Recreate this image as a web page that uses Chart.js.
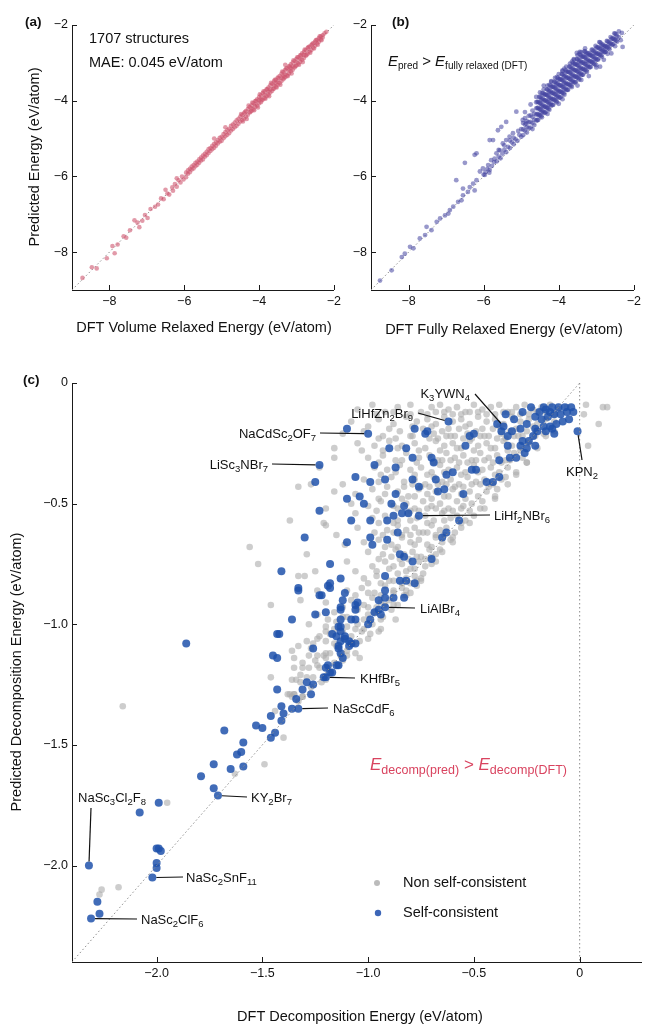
<!DOCTYPE html>
<html>
<head>
<meta charset="utf-8">
<script src="https://cdn.jsdelivr.net/npm/chart.js@4.4.1/dist/chart.umd.min.js"></script>
<style>
html, body { margin: 0; padding: 0; background: #fff; overflow: hidden; }
#wrap { position: relative; width: 645px; height: 1025px; }
canvas { position: absolute; }
</style>
</head>
<body>
<div id="wrap">
  <canvas id="chartA" style="left:0;top:0" width="345" height="345"></canvas>
  <canvas id="chartB" style="left:330px;top:0" width="315" height="345"></canvas>
  <canvas id="chartC" style="left:0;top:360px" width="645" height="665"></canvas>
</div>
<script>
const FONT = '"Liberation Sans", Arial, Helvetica, sans-serif';

// ---- tick values ----
const energyTicks = [-8, -6, -4, -2];
const decompTicksX = [-2.0, -1.5, -1.0, -0.5, 0];
const decompTicksY = [0, -0.5, -1.0, -1.5, -2.0];

// ---- (a) DFT volume relaxed vs predicted energy ----
const volRelaxedPts = [
  [-8.72,-8.68],[-8.47,-8.40],[-8.34,-8.43],[-8.07,-8.16],[-7.86,-8.03],[-7.92,-7.84],[-7.78,-7.80],[-7.62,-7.58],
  [-7.55,-7.62],[-7.45,-7.42],[-7.33,-7.16],[-7.20,-7.34],[-7.25,-7.22],[-7.12,-7.17],[-7.05,-7.02],[-6.98,-7.10],
  [-6.90,-6.86],[-6.78,-6.80],[-6.70,-6.74],[-6.62,-6.58],[-6.55,-6.60],[-6.45,-6.45],[-6.40,-6.48],[-6.32,-6.29],
  [-6.30,-6.38],[-6.25,-6.20],[-6.20,-6.27],[-6.15,-6.10],[-6.10,-6.16],[-6.06,-6.00],[-6.02,-6.08],[-6.50,-6.35],
  [-6.20,-6.05],[-5.20,-5.00],[-4.90,-4.70],[-3.30,-3.05],
  [-5.95,-5.90],[-5.95,-6.02],[-5.90,-5.93],[-5.90,-5.84],[-5.85,-5.80],[-5.85,-5.89],[-5.80,-5.82],[-5.80,-5.74],
  [-5.75,-5.70],[-5.75,-5.79],[-5.70,-5.73],[-5.70,-5.64],[-5.65,-5.61],[-5.65,-5.69],[-5.60,-5.55],[-5.60,-5.64],
  [-5.55,-5.58],[-5.55,-5.50],[-5.50,-5.45],[-5.50,-5.55],[-5.45,-5.48],[-5.45,-5.40],[-5.40,-5.35],[-5.40,-5.44],
  [-5.35,-5.38],[-5.35,-5.28],[-5.30,-5.25],[-5.30,-5.33],[-5.25,-5.28],[-5.25,-5.19],[-5.20,-5.14],[-5.20,-5.24],
  [-5.15,-5.19],[-5.15,-5.10],[-5.10,-5.04],[-5.10,-5.13],[-5.05,-5.08],[-5.05,-4.98],[-5.00,-4.95],[-5.00,-5.06],
  [-4.95,-4.99],[-4.95,-4.88],[-4.90,-4.83],[-4.90,-4.94],[-4.85,-4.90],[-4.85,-4.78],[-4.80,-4.74],[-4.80,-4.86],
  [-4.75,-4.79],[-4.75,-4.66],[-4.70,-4.63],[-4.70,-4.75],[-4.65,-4.70],[-4.65,-4.58],[-4.60,-4.52],[-4.60,-4.66],
  [-4.55,-4.61],[-4.55,-4.48],[-4.50,-4.42],[-4.50,-4.55],[-4.45,-4.51],[-4.45,-4.38],[-4.40,-4.33],[-4.40,-4.47],
  [-4.35,-4.42],[-4.35,-4.27],[-4.30,-4.22],[-4.30,-4.37],[-4.25,-4.31],[-4.25,-4.17],[-4.20,-4.12],[-4.20,-4.27],
  [-4.20,-4.20],[-4.15,-4.23],[-4.15,-4.06],[-4.10,-4.01],[-4.10,-4.16],[-4.10,-4.10],[-4.05,-4.13],[-4.05,-3.96],
  [-4.00,-3.90],[-4.00,-4.07],[-4.00,-3.99],[-3.95,-4.04],[-3.95,-3.86],[-3.95,-3.95],[-3.90,-3.80],[-3.90,-3.97],
  [-3.85,-3.93],[-3.85,-3.76],[-3.85,-3.85],[-3.80,-3.70],[-3.80,-3.88],[-3.75,-3.84],[-3.75,-3.65],[-3.75,-3.76],
  [-3.70,-3.59],[-3.70,-3.78],[-3.70,-3.70],[-3.65,-3.74],[-3.65,-3.55],[-3.60,-3.49],[-3.60,-3.68],[-3.60,-3.60],
  [-3.55,-3.63],[-3.55,-3.45],[-3.55,-3.54],[-3.50,-3.39],[-3.50,-3.58],[-3.50,-3.50],[-3.45,-3.53],[-3.45,-3.35],
  [-3.40,-3.29],[-3.40,-3.48],[-3.40,-3.40],[-3.35,-3.43],[-3.35,-3.24],[-3.35,-3.34],[-3.30,-3.19],[-3.30,-3.38],
  [-3.30,-3.30],[-3.25,-3.33],[-3.25,-3.14],[-3.20,-3.09],[-3.20,-3.28],[-3.20,-3.20],[-3.15,-3.22],[-3.15,-3.04],
  [-3.15,-3.14],[-3.10,-2.99],[-3.10,-3.18],[-3.10,-3.09],[-3.05,-3.12],[-3.05,-2.95],[-3.00,-2.90],[-3.00,-3.07],
  [-3.00,-2.99],[-2.95,-3.02],[-2.95,-2.85],[-2.90,-2.80],[-2.90,-2.97],[-2.90,-2.89],[-2.85,-2.92],[-2.85,-2.75],
  [-2.80,-2.71],[-2.80,-2.87],[-2.80,-2.79],[-2.75,-2.81],[-2.75,-2.66],[-2.70,-2.61],[-2.70,-2.76],[-2.65,-2.70],
  [-2.65,-2.57],[-2.60,-2.53],[-2.60,-2.66],[-2.55,-2.60],[-2.55,-2.48],[-2.50,-2.44],[-2.50,-2.55],[-2.45,-2.49],
  [-2.45,-2.39],[-2.40,-2.35],[-2.40,-2.44],[-2.35,-2.38],[-2.35,-2.30],[-2.30,-2.27],[-2.30,-2.33],[-2.25,-2.22],
  [-2.20,-2.18],
  [-4.48,-4.35],[-4.43,-4.55],[-4.38,-4.30],[-4.33,-4.48],[-4.28,-4.13],[-4.23,-4.29],[-4.18,-4.05],[-4.13,-4.25],
  [-4.08,-4.00],[-4.03,-4.18],[-3.98,-3.83],[-3.93,-3.99],[-3.88,-3.75],[-3.83,-3.95],[-3.78,-3.70],[-3.73,-3.88],
  [-3.68,-3.53],[-3.63,-3.69],[-3.58,-3.45],[-3.53,-3.65],[-3.48,-3.40],[-3.43,-3.58],[-3.38,-3.23],[-3.33,-3.39],
  [-3.28,-3.15],[-3.23,-3.35],[-3.18,-3.10],[-3.13,-3.28],[-3.08,-2.93],[-3.03,-3.09],[-2.98,-2.85],[-2.93,-3.05],
  [-2.88,-2.80],[-2.83,-2.98],[-2.78,-2.65],[-2.73,-2.79],[-2.68,-2.58],[-2.63,-2.73],[-2.58,-2.50],[-2.53,-2.62],
  [-2.48,-2.40],[-2.43,-2.52],[-2.38,-2.30],[-2.33,-2.40]
];

// ---- (b) DFT fully relaxed vs predicted energy ----
const fullyRelaxedPts = [
  [-8.76,-8.75],[-8.45,-8.48],[-8.18,-8.13],[-8.10,-8.04],[-7.96,-7.86],[-7.87,-7.90],[-7.70,-7.64],[-7.56,-7.55],
  [-7.52,-7.33],[-7.39,-7.42],[-7.25,-7.20],[-7.16,-7.11],[-7.03,-7.03],[-6.94,-6.98],[-6.90,-6.89],[-6.81,-6.80],
  [-6.68,-6.67],[-6.59,-6.63],[-6.55,-6.50],[-6.42,-6.41],[-6.73,-6.10],[-6.55,-6.32],[-6.37,-6.28],[-6.28,-6.19],
  [-6.19,-6.10],[-6.24,-6.37],[-6.50,-5.64],[-6.19,-5.39],[-6.24,-5.43],[-6.10,-5.87],[-6.02,-5.79],[-5.97,-5.96],
  [-5.88,-5.70],[-5.80,-5.57],[-5.84,-5.83],[-5.66,-5.39],[-5.57,-5.31],[-5.71,-5.53],[-5.62,-4.78],[-5.53,-4.69],
  [-5.40,-4.56],[-5.84,-5.04],[-5.75,-5.04],[-5.49,-5.13],[-5.40,-5.04],[-5.31,-4.95],[-5.22,-4.86],[-5.13,-4.29],
  [-4.96,-4.51],[-4.87,-4.60],
  [-6.00,-5.95],[-5.95,-5.88],[-5.90,-5.80],[-5.85,-5.90],[-5.78,-5.72],[-5.72,-5.62],[-5.65,-5.60],[-5.60,-5.48],
  [-5.55,-5.52],[-5.50,-5.40],[-5.45,-5.30],[-5.40,-5.36],[-5.35,-5.22],[-5.30,-5.25],[-5.25,-5.10],[-5.20,-5.15],
  [-5.15,-5.02],[-5.10,-5.06],[-5.05,-4.90],[-5.00,-4.95],[-5.00,-4.75],[-5.08,-4.80],[-5.20,-4.98],[-5.30,-5.05],
  [-5.45,-5.18],[-5.60,-5.30],
  [-4.95,-4.91],[-4.95,-4.76],[-4.95,-4.59],[-4.90,-4.79],[-4.90,-4.63],[-4.90,-4.46],[-4.85,-4.84],[-4.85,-4.70],
  [-4.85,-4.54],[-4.80,-4.72],[-4.80,-4.57],[-4.80,-4.40],[-4.75,-4.71],[-4.75,-4.56],[-4.75,-4.39],[-4.70,-4.59],
  [-4.70,-4.43],[-4.70,-4.26],[-4.65,-4.64],[-4.65,-4.50],[-4.65,-4.34],[-4.60,-4.52],[-4.60,-4.37],[-4.60,-4.20],
  [-4.60,-4.04],[-4.55,-4.51],[-4.55,-4.36],[-4.55,-4.19],[-4.55,-4.03],[-4.50,-4.39],[-4.50,-4.23],[-4.50,-4.06],
  [-4.50,-3.90],[-4.45,-4.44],[-4.45,-4.30],[-4.45,-4.14],[-4.45,-3.97],[-4.40,-4.32],[-4.40,-4.17],[-4.40,-4.00],
  [-4.40,-3.84],[-4.35,-4.31],[-4.35,-4.16],[-4.35,-3.99],[-4.35,-3.83],[-4.30,-4.19],[-4.30,-4.03],[-4.30,-3.86],
  [-4.30,-3.70],[-4.25,-4.24],[-4.25,-4.10],[-4.25,-3.94],[-4.25,-3.77],[-4.20,-4.12],[-4.20,-3.97],[-4.20,-3.80],
  [-4.20,-3.64],[-4.15,-4.11],[-4.15,-3.96],[-4.15,-3.79],[-4.15,-3.63],[-4.10,-3.99],[-4.10,-3.83],[-4.10,-3.66],
  [-4.10,-3.50],[-4.05,-4.04],[-4.05,-3.90],[-4.05,-3.74],[-4.05,-3.57],[-4.00,-3.92],[-4.00,-3.77],[-4.00,-3.60],
  [-4.00,-3.44],[-3.95,-3.91],[-3.95,-3.76],[-3.95,-3.59],[-3.95,-3.43],[-3.90,-3.79],[-3.90,-3.63],[-3.90,-3.46],
  [-3.90,-3.30],[-3.85,-3.84],[-3.85,-3.70],[-3.85,-3.54],[-3.85,-3.37],[-3.80,-3.72],[-3.80,-3.57],[-3.80,-3.40],
  [-3.80,-3.24],[-3.75,-3.71],[-3.75,-3.56],[-3.75,-3.39],[-3.75,-3.23],[-3.70,-3.59],[-3.70,-3.43],[-3.70,-3.26],
  [-3.70,-3.10],[-3.65,-3.64],[-3.65,-3.50],[-3.65,-3.34],[-3.65,-3.17],[-3.60,-3.52],[-3.60,-3.37],[-3.60,-3.20],
  [-3.60,-3.04],[-3.55,-3.51],[-3.55,-3.36],[-3.55,-3.19],[-3.55,-3.03],[-3.50,-3.39],[-3.50,-3.23],[-3.50,-3.06],
  [-3.50,-2.90],[-3.45,-3.44],[-3.45,-3.30],[-3.45,-3.14],[-3.45,-2.97],[-3.40,-3.32],[-3.40,-3.17],[-3.40,-3.00],
  [-3.40,-2.84],[-3.35,-3.31],[-3.35,-3.16],[-3.35,-2.99],[-3.35,-2.83],[-3.30,-3.19],[-3.30,-3.03],[-3.30,-2.86],
  [-3.30,-2.70],[-3.25,-3.24],[-3.25,-3.10],[-3.25,-2.94],[-3.25,-2.77],[-3.20,-3.12],[-3.20,-2.97],[-3.20,-2.80],
  [-3.15,-3.11],[-3.15,-2.96],[-3.15,-2.79],[-3.10,-2.99],[-3.10,-2.83],[-3.10,-2.66],[-3.05,-3.04],[-3.05,-2.90],
  [-3.05,-2.74],[-3.00,-2.92],[-3.00,-2.77],[-3.00,-2.60],[-2.95,-2.91],[-2.95,-2.76],[-2.95,-2.59],[-2.90,-2.79],
  [-2.90,-2.63],[-2.90,-2.46],[-2.85,-2.84],[-2.85,-2.70],[-2.85,-2.54],[-2.80,-2.72],[-2.80,-2.57],[-2.75,-2.71],
  [-2.75,-2.56],[-2.70,-2.59],[-2.70,-2.43],[-2.65,-2.64],[-2.65,-2.50],[-2.60,-2.52],[-2.60,-2.37],[-2.55,-2.51],
  [-2.55,-2.36],[-2.50,-2.39],[-2.50,-2.23],[-2.45,-2.44],[-2.45,-2.30],[-2.40,-2.32],[-2.40,-2.17],[-2.32,-2.21],
  [-2.30,-2.58],[-2.35,-2.40],
  [-4.57,-4.51],[-4.57,-4.35],[-4.57,-4.19],[-4.57,-4.03],[-4.52,-4.38],[-4.52,-4.22],[-4.52,-4.05],[-4.52,-3.90],
  [-4.47,-4.41],[-4.47,-4.25],[-4.47,-4.09],[-4.47,-3.93],[-4.42,-4.28],[-4.42,-4.12],[-4.42,-3.95],[-4.42,-3.80],
  [-4.37,-4.31],[-4.37,-4.15],[-4.37,-3.99],[-4.37,-3.83],[-4.32,-4.18],[-4.32,-4.02],[-4.32,-3.85],[-4.32,-3.70],
  [-4.27,-4.21],[-4.27,-4.05],[-4.27,-3.89],[-4.27,-3.73],[-4.22,-4.08],[-4.22,-3.92],[-4.22,-3.75],[-4.22,-3.60],
  [-4.17,-4.11],[-4.17,-3.95],[-4.17,-3.79],[-4.17,-3.63],[-4.12,-3.98],[-4.12,-3.82],[-4.12,-3.65],[-4.12,-3.50],
  [-4.07,-4.01],[-4.07,-3.85],[-4.07,-3.69],[-4.07,-3.53],[-4.02,-3.88],[-4.02,-3.72],[-4.02,-3.55],[-4.02,-3.40],
  [-3.97,-3.91],[-3.97,-3.75],[-3.97,-3.59],[-3.97,-3.43],[-3.92,-3.78],[-3.92,-3.62],[-3.92,-3.45],[-3.92,-3.30],
  [-3.87,-3.81],[-3.87,-3.65],[-3.87,-3.49],[-3.87,-3.33],[-3.82,-3.68],[-3.82,-3.52],[-3.82,-3.35],[-3.82,-3.20],
  [-3.77,-3.71],[-3.77,-3.55],[-3.77,-3.39],[-3.77,-3.23],[-3.72,-3.58],[-3.72,-3.42],[-3.72,-3.25],[-3.72,-3.10],
  [-3.67,-3.61],[-3.67,-3.45],[-3.67,-3.29],[-3.67,-3.13],[-3.62,-3.48],[-3.62,-3.32],[-3.62,-3.15],[-3.62,-3.00],
  [-3.57,-3.51],[-3.57,-3.35],[-3.57,-3.19],[-3.57,-3.03],[-3.52,-3.38],[-3.52,-3.22],[-3.52,-3.05],[-3.52,-2.90],
  [-3.47,-3.41],[-3.47,-3.25],[-3.47,-3.09],[-3.47,-2.93],[-3.42,-3.28],[-3.42,-3.12],[-3.42,-2.95],[-3.42,-2.80],
  [-3.37,-3.31],[-3.37,-3.15],[-3.37,-2.99],[-3.37,-2.83],[-3.32,-3.18],[-3.32,-3.02],[-3.32,-2.85],[-3.32,-2.70],
  [-3.27,-3.21],[-3.27,-3.05],[-3.27,-2.89],[-3.27,-2.73],[-3.22,-3.08],[-3.22,-2.92],[-3.22,-2.75],[-3.17,-3.11],
  [-3.17,-2.95],[-3.17,-2.79],[-3.12,-2.98],[-3.12,-2.82],[-3.12,-2.65],[-3.07,-3.01],[-3.07,-2.85],[-3.07,-2.69],
  [-3.02,-2.88],[-3.02,-2.72],[-3.02,-2.55],[-2.97,-2.91],[-2.97,-2.75],[-2.97,-2.59],[-2.92,-2.78],[-2.92,-2.62],
  [-2.92,-2.45],[-2.87,-2.81],[-2.87,-2.65],[-2.87,-2.49],[-2.82,-2.68],[-2.82,-2.52],[-2.77,-2.71],[-2.77,-2.55],
  [-2.72,-2.58],[-2.72,-2.42],[-2.67,-2.61],[-2.67,-2.45],[-2.62,-2.48],[-2.62,-2.32],[-2.57,-2.51],[-2.57,-2.35],
  [-2.52,-2.38],[-2.52,-2.22],[-2.47,-2.41],[-2.47,-2.25],
  [-4.50,-3.78],[-4.40,-3.70],[-4.30,-3.60],[-4.20,-3.48],[-4.10,-3.40],[-4.00,-3.30],[-3.90,-3.22],[-3.80,-3.10],
  [-3.70,-3.02],[-3.60,-2.92],[-3.50,-2.80],[-3.40,-2.72],[-3.30,-2.62],[-4.45,-3.80],[-4.25,-3.58],[-4.05,-3.38],
  [-3.85,-3.15],[-3.65,-2.97],[-3.45,-2.76],
  [-4.30,-4.35],[-3.90,-3.96],[-3.40,-3.45],[-3.00,-3.06],[-2.70,-2.76],[-4.70,-4.75],[-2.50,-2.56],[-3.20,-3.35],
  [-3.00,-3.12],[-2.80,-2.92],[-2.60,-2.75],[-3.50,-3.60],[-4.00,-4.08],[-2.90,-3.10],
  [-4.40,-3.60],[-4.20,-3.50],[-3.90,-3.20],[-3.60,-2.90],[-3.52,-2.74],[-3.44,-2.71],[-3.18,-2.74],[-2.78,-2.66],
  [-4.60,-3.90],[-4.75,-4.10],[-4.90,-4.30]
];

// ---- (c) decomposition energies ----
const nonSelfConsistentPts = [
  [-1.05,-0.11],[-0.98,-0.09],[-0.92,-0.12],[-0.86,-0.10],[-0.80,-0.09],[-0.75,-0.12],[-0.70,-0.10],[-0.66,-0.09],
  [-0.62,-0.11],[-0.58,-0.10],[-0.54,-0.12],[-0.50,-0.09],[-0.46,-0.11],[-0.42,-0.10],[-0.38,-0.09],[-0.34,-0.12],
  [-0.30,-0.10],[-0.26,-0.09],[-0.22,-0.11],[-0.18,-0.10],[-0.14,-0.09],[-0.10,-0.11],[-0.06,-0.10],[0.02,-0.13],
  [0.11,-0.10],[0.13,-0.10],[0.09,-0.17],[0.04,-0.26],[0.03,-0.09],
  [-1.08,-0.16],[-0.95,-0.15],[-0.88,-0.17],[-0.82,-0.14],[-0.77,-0.16],[-0.72,-0.15],[-0.68,-0.17],[-0.64,-0.14],
  [-0.60,-0.16],[-0.56,-0.15],[-0.52,-0.17],[-0.48,-0.14],[-0.44,-0.16],[-0.40,-0.15],[-0.36,-0.17],[-0.32,-0.14],
  [-0.28,-0.16],[-0.24,-0.15],[-0.20,-0.17],[-0.16,-0.15],[-0.12,-0.16],
  [-1.12,-0.21],[-1.02,-0.20],[-0.93,-0.22],[-0.85,-0.20],[-0.80,-0.22],[-0.74,-0.19],[-0.69,-0.21],[-0.65,-0.20],
  [-0.61,-0.22],[-0.57,-0.19],[-0.53,-0.21],[-0.49,-0.20],[-0.45,-0.22],[-0.41,-0.19],[-0.37,-0.21],[-0.33,-0.20],
  [-0.29,-0.22],[-0.25,-0.20],[-0.21,-0.22],[-0.17,-0.21],
  [-1.16,-0.27],[-1.05,-0.25],[-0.97,-0.26],[-0.90,-0.24],[-0.84,-0.26],[-0.78,-0.25],[-0.73,-0.27],[-0.68,-0.24],
  [-0.64,-0.26],[-0.60,-0.25],[-0.56,-0.27],[-0.52,-0.24],[-0.48,-0.26],[-0.44,-0.25],[-0.40,-0.27],[-0.36,-0.24],
  [-0.32,-0.26],[-0.28,-0.28],[-0.24,-0.25],[-0.20,-0.27],
  [-1.03,-0.28],[-1.00,-0.31],[-0.93,-0.30],[-0.87,-0.32],[-0.82,-0.29],[-0.76,-0.31],[-0.71,-0.30],[-0.67,-0.32],
  [-0.63,-0.29],[-0.59,-0.31],[-0.55,-0.30],[-0.51,-0.32],[-0.47,-0.29],[-0.43,-0.31],[-0.39,-0.30],[-0.35,-0.32],
  [-0.31,-0.29],[-0.27,-0.31],[-0.25,-0.33],
  [-1.23,-0.35],[-1.16,-0.31],[-0.97,-0.35],[-0.91,-0.36],[-0.85,-0.34],[-0.80,-0.36],[-0.75,-0.35],[-0.70,-0.37],
  [-0.66,-0.34],[-0.62,-0.36],[-0.58,-0.35],[-0.54,-0.37],[-0.50,-0.34],[-0.46,-0.36],[-0.42,-0.35],[-0.38,-0.37],
  [-0.34,-0.35],[-0.30,-0.37],
  [-1.33,-0.43],[-1.27,-0.42],[-1.12,-0.42],[-1.02,-0.40],[-0.95,-0.41],[-0.89,-0.39],[-0.83,-0.41],[-0.78,-0.40],
  [-0.73,-0.42],[-0.69,-0.39],[-0.65,-0.41],[-0.61,-0.40],[-0.57,-0.42],[-0.53,-0.39],[-0.49,-0.41],[-0.45,-0.40],
  [-0.41,-0.42],[-0.37,-0.40],
  [-1.16,-0.45],[-1.06,-0.46],[-0.98,-0.44],[-0.92,-0.46],[-0.86,-0.45],[-0.81,-0.47],[-0.76,-0.44],[-0.72,-0.46],
  [-0.68,-0.45],[-0.64,-0.47],[-0.60,-0.44],[-0.56,-0.46],[-0.52,-0.45],[-0.48,-0.47],[-0.44,-0.45],[-0.40,-0.47],
  [-1.20,-0.52],[-1.08,-0.50],[-1.00,-0.51],[-0.94,-0.49],[-0.88,-0.51],[-0.82,-0.50],[-0.78,-0.52],[-0.74,-0.49],
  [-0.70,-0.51],[-0.66,-0.50],[-0.62,-0.52],[-0.58,-0.49],[-0.55,-0.51],[-0.51,-0.50],[-0.47,-0.52],
  [-1.37,-0.57],[-1.21,-0.58],[-1.20,-0.59],[-1.06,-0.54],[-0.98,-0.56],[-0.92,-0.55],[-0.86,-0.57],[-0.81,-0.54],
  [-0.77,-0.56],[-0.73,-0.55],[-0.69,-0.57],[-0.65,-0.54],[-0.61,-0.56],[-0.58,-0.55],[-0.54,-0.57],[-0.50,-0.55],
  [-1.15,-0.63],[-1.05,-0.60],[-0.97,-0.62],[-0.91,-0.61],[-0.86,-0.59],[-0.82,-0.61],[-0.78,-0.60],[-0.74,-0.62],
  [-0.70,-0.59],[-0.66,-0.61],[-0.63,-0.60],[-0.59,-0.62],[-0.56,-0.60],
  [-1.11,-0.67],[-1.02,-0.66],[-0.95,-0.65],[-0.89,-0.67],[-0.84,-0.64],[-0.80,-0.66],[-0.76,-0.65],[-0.72,-0.67],
  [-0.68,-0.64],[-0.65,-0.66],[-0.61,-0.65],
  [-1.56,-0.68],[-1.29,-0.71],[-1.10,-0.74],[-1.00,-0.70],[-0.93,-0.71],[-0.87,-0.69],[-0.83,-0.71],[-0.79,-0.70],
  [-0.75,-0.72],[-0.71,-0.69],[-0.68,-0.71],[-0.65,-0.70],
  [-1.52,-0.75],[-1.25,-0.78],[-1.06,-0.78],[-0.98,-0.76],[-0.92,-0.74],[-0.88,-0.76],[-0.84,-0.75],[-0.80,-0.77],
  [-0.76,-0.74],[-0.73,-0.76],[-0.70,-0.75],
  [-1.33,-0.80],[-1.30,-0.80],[-1.02,-0.81],[-0.96,-0.80],[-0.90,-0.82],[-0.86,-0.79],[-0.82,-0.81],[-0.78,-0.80],
  [-0.75,-0.82],
  [-1.24,-0.86],[-1.10,-0.86],[-1.03,-0.85],[-0.97,-0.87],[-0.92,-0.84],[-0.88,-0.86],[-0.84,-0.85],[-0.80,-0.87],
  [-0.77,-0.84],
  [-1.46,-0.92],[-1.32,-0.90],[-1.20,-0.91],[-1.08,-0.90],[-1.02,-0.92],[-0.98,-0.89],[-0.94,-0.91],[-0.90,-0.90],
  [-0.86,-0.92],[-0.83,-0.88],
  [-1.24,-0.96],[-1.16,-0.95],[-1.10,-0.97],[-1.05,-0.94],[-1.00,-0.96],[-0.97,-0.95],[-0.93,-0.97],[-0.89,-0.94],
  [-0.87,-0.98],
  [-1.28,-1.00],[-1.20,-1.01],[-1.15,-0.99],[-1.10,-1.01],[-1.05,-1.00],[-1.02,-1.02],[-0.98,-1.00],[-0.95,-1.03],
  [-1.23,-1.05],[-1.24,-1.06],[-1.29,-1.07],[-1.18,-1.04],[-1.12,-1.06],[-1.08,-1.05],[-1.04,-1.07],[-1.00,-1.06],
  [-1.33,-1.09],[-1.36,-1.11],[-1.27,-1.10],[-1.20,-1.12],[-1.15,-1.09],[-1.10,-1.11],[-1.06,-1.12],
  [-1.35,-1.14],[-1.31,-1.16],[-1.25,-1.15],[-1.20,-1.14],[-1.16,-1.16],[-1.12,-1.15],
  [-1.28,-1.18],[-1.35,-1.18],[-1.23,-1.18],[-1.32,-1.21],[-1.26,-1.22],[-1.18,-1.20],
  [-1.36,-1.23],[-1.32,-1.24],[-1.27,-1.26],[-1.22,-1.24],
  [-1.38,-1.29],[-1.36,-1.30],[-1.35,-1.29],[-1.31,-1.30],[-1.33,-1.32],
  [-0.72,-0.13],[-0.64,-0.12],[-0.56,-0.13],[-0.48,-0.12],[-0.40,-0.13],[-0.32,-0.12],[-0.24,-0.13],[-0.16,-0.12],
  [-0.71,-0.23],[-0.63,-0.22],[-0.55,-0.23],[-0.47,-0.22],[-0.39,-0.23],[-0.31,-0.22],
  [-0.69,-0.33],[-0.61,-0.32],[-0.53,-0.33],[-0.45,-0.32],[-0.37,-0.33],
  [-0.75,-0.43],[-0.67,-0.42],[-0.59,-0.43],[-0.51,-0.42],[-0.43,-0.43],
  [-0.80,-0.53],[-0.72,-0.52],[-0.64,-0.53],[-0.56,-0.52],
  [-0.84,-0.63],[-0.76,-0.62],[-0.68,-0.63],
  [-0.85,-0.73],[-0.77,-0.72],[-0.73,-0.73],
  [-0.94,-0.83],[-0.88,-0.82],[-0.80,-0.83],
  [-1.00,-0.93],[-0.92,-0.92],
  [-1.12,-1.03],[-1.06,-1.02],[-0.99,-1.04],
  [-1.24,-1.13],[-1.18,-1.12],[-1.13,-1.13],
  [-0.96,-0.13],[-0.88,-0.12],[-0.80,-0.13],[-0.68,-0.12],[-0.60,-0.13],[-0.52,-0.12],[-0.44,-0.13],[-0.36,-0.12],
  [-0.28,-0.13],[-0.20,-0.12],[-0.12,-0.13],
  [-1.00,-0.18],[-0.90,-0.19],[-0.79,-0.18],[-0.70,-0.18],[-0.62,-0.19],[-0.54,-0.18],[-0.46,-0.19],[-0.38,-0.18],
  [-0.30,-0.19],[-0.22,-0.18],
  [-0.95,-0.23],[-0.87,-0.23],[-0.79,-0.22],[-0.67,-0.23],[-0.59,-0.22],[-0.51,-0.23],[-0.43,-0.22],[-0.35,-0.23],
  [-0.27,-0.22],
  [-0.93,-0.28],[-0.86,-0.27],[-0.76,-0.28],[-0.66,-0.28],[-0.58,-0.27],[-0.50,-0.28],[-0.42,-0.27],[-0.34,-0.28],
  [-0.95,-0.33],[-0.84,-0.32],[-0.77,-0.33],[-0.65,-0.32],[-0.57,-0.33],[-0.49,-0.32],[-0.41,-0.33],[-0.33,-0.32],
  [-0.94,-0.38],[-0.87,-0.37],[-0.78,-0.38],[-0.72,-0.38],[-0.64,-0.37],[-0.56,-0.38],[-0.48,-0.37],[-0.40,-0.38],
  [-0.35,-0.39],
  [-0.91,-0.43],[-0.83,-0.43],[-0.79,-0.42],[-0.71,-0.43],[-0.63,-0.42],[-0.55,-0.43],[-0.47,-0.42],[-0.39,-0.44],
  [-0.95,-0.48],[-0.84,-0.48],[-0.78,-0.47],[-0.70,-0.48],[-0.62,-0.47],[-0.54,-0.48],[-0.46,-0.49],
  [-0.96,-0.53],[-0.86,-0.52],[-0.76,-0.53],[-0.68,-0.52],[-0.60,-0.53],[-0.52,-0.53],
  [-0.95,-0.58],[-0.88,-0.58],[-0.80,-0.57],[-0.72,-0.58],[-0.64,-0.57],[-0.56,-0.58],
  [-0.93,-0.63],[-0.88,-0.62],[-0.80,-0.63],[-0.72,-0.62],[-0.64,-0.63],[-0.60,-0.64],
  [-0.92,-0.68],[-0.86,-0.68],[-0.78,-0.67],[-0.70,-0.68],[-0.66,-0.69],
  [-0.95,-0.73],[-0.89,-0.72],[-0.81,-0.73],[-0.70,-0.72],
  [-0.96,-0.78],[-0.90,-0.77],[-0.82,-0.78],[-0.78,-0.77],[-0.74,-0.79],
  [-1.00,-0.83],[-0.84,-0.83],[-0.77,-0.82],
  [-1.06,-0.88],[-1.00,-0.87],[-0.94,-0.88],[-0.88,-0.87],[-0.82,-0.88],
  [-1.12,-0.93],[-1.05,-0.93],[-0.96,-0.93],[-0.88,-0.92],
  [-1.19,-0.98],[-1.12,-0.97],[-1.02,-0.98],[-0.94,-0.98],
  [-1.20,-1.03],[-1.16,-1.02],[-1.03,-1.03],
  [-1.26,-1.08],[-1.20,-1.07],[-1.16,-1.08],[-1.07,-1.08],
  [-1.28,-1.13],[-1.21,-1.13],[-1.10,-1.13],
  [-1.31,-1.18],[-1.24,-1.17],[-1.19,-1.18],[-1.14,-1.17],
  [-1.34,-1.23],[-1.29,-1.22],[-1.20,-1.23],
  [-0.25,-0.33],[-0.34,-0.42],[-0.30,-0.38],[-0.40,-0.48],[-0.45,-0.52],[-0.52,-0.58],[-0.60,-0.66],[-0.68,-0.74],
  [-0.75,-0.81],[-0.82,-0.86],[-0.16,-0.22],[-0.12,-0.20],[-1.04,-1.14],[-0.94,-1.02],
  [-2.16,-1.34],[-1.95,-1.74],[-2.26,-2.10],[-2.27,-2.12],[-2.18,-2.09],[-1.49,-1.58],[-1.63,-1.62],[-1.40,-1.47],
  [-1.44,-1.36],[-1.37,-1.29],[-1.35,-1.29],[-1.31,-1.30],[-1.46,-1.22]
];

const selfConsistentPts = [
  [-2.28,-2.15],[-2.27,-2.20],[-2.00,-1.99],[-2.00,-2.01],[-2.00,-1.93],[-1.99,-1.93],[-1.98,-1.94],[-2.08,-1.78],
  [-1.99,-1.74],[-1.73,-1.68],[-1.79,-1.63],[-1.65,-1.60],[-1.59,-1.59],[-1.73,-1.58],[-1.62,-1.54],[-1.60,-1.53],
  [-1.59,-1.49],[-1.44,-1.45],[-1.46,-1.47],[-1.68,-1.44],[-1.53,-1.42],[-1.50,-1.43],[-1.41,-1.40],[-1.40,-1.37],
  [-1.46,-1.38],[-1.41,-1.34],[-1.36,-1.35],[-1.34,-1.31],[-1.43,-1.27],[-1.27,-1.29],[-1.31,-1.27],[-1.26,-1.25],
  [-1.29,-1.24],[-1.20,-1.18],[-1.18,-1.20],[-1.14,-1.17],[-1.45,-1.13],[-1.43,-1.14],[-1.26,-1.10],[-1.43,-1.04],
  [-1.86,-1.08],
  [-1.14,-1.10],[-1.13,-1.12],[-1.12,-1.14],[-1.13,-1.01],[-1.15,-1.05],[-1.13,-1.07],[-1.11,-1.05],[-1.09,-1.07],
  [-1.08,-1.08],[-1.06,-1.08],[-1.36,-0.98],[-1.25,-0.96],[-1.20,-0.95],[-1.13,-0.94],[-1.13,-0.98],[-1.08,-0.98],
  [-1.06,-0.98],[-1.06,-0.92],[-1.12,-0.90],[-1.23,-0.88],[-1.11,-0.87],[-1.33,-0.85],[-1.18,-0.83],[-1.18,-0.85],
  [-1.13,-0.81],[-1.41,-0.78],
  [-0.95,-0.94],[-0.99,-0.98],[-1.00,-1.00],[-0.97,-0.95],[-0.95,-0.90],[-0.92,-0.89],[-0.88,-0.89],[-0.83,-0.89],
  [-0.92,-0.86],[-0.92,-0.80],[-0.85,-0.82],[-0.82,-0.82],[-0.78,-0.83],[-0.94,-0.96],
  [-1.14,-1.01],[-1.13,-1.03],[-1.17,-1.04],[-1.11,-1.06],[-1.09,-1.09],[-1.14,-1.09],[-1.19,-1.17],[-1.17,-1.20],
  [-1.15,-1.17],[-1.21,-1.22],
  [-1.18,-0.75],[-1.19,-0.84],[-1.22,-0.88],[-1.13,-0.93],[-1.06,-0.94],[-1.05,-0.91],
  [-1.25,-0.41],[-1.23,-0.53],[-1.30,-0.64],[-1.33,-0.86],[-1.42,-1.04],
  [-1.10,-0.66],[-1.08,-0.57],[-0.99,-0.57],[-0.99,-0.64],[-0.98,-0.67],[-0.91,-0.57],[-0.91,-0.65],[-0.86,-0.62],
  [-0.89,-0.50],[-0.88,-0.55],[-0.84,-0.54],[-0.81,-0.54],[-0.83,-0.51],[-0.87,-0.46],[-1.04,-0.47],[-1.02,-0.50],
  [-1.10,-0.48],[-0.57,-0.57],[-0.63,-0.62],[-0.65,-0.64],[-0.70,-0.73],[-0.79,-0.74],[-0.83,-0.72],[-0.85,-0.71],
  [-1.10,-0.19],[-0.78,-0.19],[-0.73,-0.21],[-0.72,-0.20],[-0.90,-0.27],[-0.82,-0.27],[-0.79,-0.31],[-0.70,-0.31],
  [-0.69,-0.33],[-0.97,-0.34],[-0.87,-0.35],[-1.06,-0.39],[-0.99,-0.41],[-0.92,-0.40],[-0.79,-0.40],[-0.76,-0.43],
  [-0.68,-0.40],[-0.64,-0.44],[-0.67,-0.45],[-0.60,-0.37],[-0.63,-0.38],[-0.55,-0.46],[-0.52,-0.22],[-0.50,-0.21],
  [-0.54,-0.26],[-0.51,-0.36],[-0.49,-0.36],[-0.44,-0.41],[-0.41,-0.41],[-0.38,-0.39],[-0.38,-0.32],
  [-0.39,-0.17],[-0.37,-0.20],[-0.34,-0.22],[-0.32,-0.20],[-0.35,-0.13],[-0.31,-0.15],[-0.30,-0.31],[-0.33,-0.31],
  [-0.28,-0.26],[-0.25,-0.27],[-0.21,-0.26],[-0.27,-0.24],[-0.34,-0.26],
  [-0.25,-0.17],[-0.23,-0.10],[-0.21,-0.14],[-0.19,-0.12],[-0.16,-0.11],[-0.13,-0.10],[-0.10,-0.10],[-0.07,-0.10],
  [-0.04,-0.10],[-0.20,-0.20],[-0.17,-0.18],[-0.14,-0.18],[-0.11,-0.17],[-0.22,-0.22],[-0.24,-0.24],[-0.18,-0.15],
  [-0.15,-0.14],[-0.12,-0.13],[-0.09,-0.13],[-0.06,-0.12],[-0.27,-0.12],[-0.17,-0.10],[-0.14,-0.12],[-0.08,-0.16],
  [-0.05,-0.15],[-0.13,-0.19],[-0.16,-0.20],[-0.21,-0.19],[-0.28,-0.19],[-0.26,-0.29],[-0.12,-0.21],[-0.03,-0.12],
  [-2.32,-2.00],[-2.31,-2.22],[-2.02,-2.05],[-1.71,-1.71],[-1.33,-1.35],[-1.20,-1.22],[-0.92,-0.93],[-0.76,-0.55],
  [-1.23,-0.34],[-1.00,-0.21],[-0.62,-0.16],[-0.36,-0.18],[-0.01,-0.20]
];

// labelled compounds and the point each one marks
const labelNames = ['NaSc3Cl2F8', 'NaSc2ClF6', 'NaSc2SnF11', 'KY2Br7', 'NaScCdF6', 'KHfBr5', 'LiAlBr4',
  'LiHf2NBr6', 'LiSc3NBr7', 'NaCdSc2OF7', 'LiHfZn2Br9', 'K3YWN4', 'KPN2'];
const labelPts = [[-2.32,-2.00],[-2.31,-2.22],[-2.02,-2.05],[-1.71,-1.71],[-1.33,-1.35],[-1.20,-1.22],[-0.92,-0.93],
  [-0.76,-0.55],[-1.23,-0.34],[-1.00,-0.21],[-0.62,-0.16],[-0.36,-0.18],[-0.01,-0.20]];

// where the label text and leader line sit (page px)
const calloutLayout = [
  { tx: 112, ty: 797, align: 'center', lx: 91, ly: 808 },
  { tx: 141, ty: 919, align: 'left', lx: 137, ly: 919 },
  { tx: 186, ty: 877, align: 'left', lx: 183, ly: 877 },
  { tx: 251, ty: 797, align: 'left', lx: 247, ly: 797 },
  { tx: 333, ty: 708, align: 'left', lx: 328, ly: 708 },
  { tx: 360, ty: 678, align: 'left', lx: 355, ly: 678 },
  { tx: 420, ty: 608, align: 'left', lx: 415, ly: 608 },
  { tx: 494, ty: 515, align: 'left', lx: 490, ly: 515 },
  { tx: 268, ty: 464, align: 'right', lx: 272, ly: 464 },
  { tx: 316, ty: 433, align: 'right', lx: 320, ly: 433 },
  { tx: 413, ty: 413, align: 'right', lx: 418, ly: 413 },
  { tx: 470, ty: 393, align: 'right', lx: 475, ly: 394 },
  { tx: 582, ty: 471, align: 'center', lx: 582, ly: 460 }
];

const toXY = arr => arr.map(p => ({ x: p[0], y: p[1] }));
const minus = v => (v < 0 ? '\u2212' : '') + Math.abs(v);
const minus1 = v => v === 0 ? '0' : (v < 0 ? '\u2212' : '') + Math.abs(v).toFixed(1);

function axis(min, max, ticks, fmt, fit) {
    return {
        type: 'linear',
        min: min,
        max: max,
        afterBuildTicks: s => { s.ticks = ticks.map(v => ({ value: v })); },
        afterFit: fit,
        grid: { display: true, drawOnChartArea: false, drawTicks: false },
        border: { display: true, color: '#1a1a1a', width: 1 },
        ticks: {
            padding: 4, autoSkip: false, maxRotation: 0, color: '#111',
            font: { family: FONT, size: 12.5 },
            callback: fmt
        }
    };
}

// ticks in this figure point into the plot
const innerTicks = {
    id: 'innerTicks',
    afterDraw(chart) {
        const { ctx, chartArea: a, scales } = chart;
        ctx.save();
        ctx.strokeStyle = '#1a1a1a';
        ctx.lineWidth = 1;
        scales.x.ticks.forEach(t => {
            const px = Math.round(scales.x.getPixelForValue(t.value)) + 0.5;
            ctx.beginPath(); ctx.moveTo(px, a.bottom); ctx.lineTo(px, a.bottom - 5); ctx.stroke();
        });
        scales.y.ticks.forEach(t => {
            const py = Math.round(scales.y.getPixelForValue(t.value)) + 0.5;
            ctx.beginPath(); ctx.moveTo(a.left, py); ctx.lineTo(a.left + 5, py); ctx.stroke();
        });
        ctx.restore();
    }
};

function text(ctx, str, x, y, size, align, opts = {}) {
    ctx.save();
    ctx.font = (opts.bold ? 'bold ' : '') + size + 'px ' + FONT;
    ctx.fillStyle = opts.color || '#111';
    ctx.textAlign = align;
    ctx.textBaseline = 'middle';
    if (opts.rotate) {
        ctx.translate(x, y);
        ctx.rotate(-Math.PI / 2);
        ctx.fillText(str, 0, 0);
    } else {
        ctx.fillText(str, x, y);
    }
    ctx.restore();
}

// draws runs of text with their own size / italic / baseline shift
function drawRich(ctx, parts, x, baseline, align, color) {
    ctx.save();
    let w = 0;
    parts.forEach(p => {
        ctx.font = (p.it ? 'italic ' : '') + p.s + 'px ' + FONT;
        p.w = ctx.measureText(p.t).width;
        w += p.w;
    });
    let cx = align === 'right' ? x - w : align === 'center' ? x - w / 2 : x;
    ctx.fillStyle = color;
    ctx.textAlign = 'left';
    ctx.textBaseline = 'alphabetic';
    parts.forEach(p => {
        ctx.font = (p.it ? 'italic ' : '') + p.s + 'px ' + FONT;
        ctx.fillText(p.t, cx, baseline + (p.dy || 0));
        cx += p.w;
    });
    ctx.restore();
}

function formulaParts(str) {
    const parts = [];
    str.replace(/(\d+)|(\D+)/g, (m, d, t) => {
        parts.push(d ? { t: d, s: 9.5, dy: 3 } : { t: t, s: 13 });
    });
    return parts;
}

function drawPanelA(ctx) {
    text(ctx, '(a)', 25, 22, 13.5, 'left', { bold: true });
    text(ctx, '1707 structures', 89, 39, 14.5, 'left');
    text(ctx, 'MAE: 0.045 eV/atom', 89, 62.5, 14.5, 'left');
    text(ctx, 'Predicted Energy (eV/atom)', 35, 157, 14.5, 'center', { rotate: true });
    text(ctx, 'DFT Volume Relaxed Energy (eV/atom)', 204, 328, 14.5, 'center');
}

function drawPanelB(ctx) {
    const ox = 330;
    text(ctx, '(b)', 392 - ox, 22, 13.5, 'left', { bold: true });
    drawRich(ctx, [
        { t: 'E', s: 15, it: true },
        { t: 'pred', s: 10, dy: 3.5 },
        { t: ' > ', s: 15 },
        { t: 'E', s: 15, it: true },
        { t: 'fully relaxed (DFT)', s: 10, dy: 3.5 }
    ], 388 - ox, 65.5, 'left', '#111');
    text(ctx, 'DFT Fully Relaxed Energy (eV/atom)', 504 - ox, 330, 14.5, 'center');
}

function drawPanelC(ctx, chart) {
    const oy = 360;
    const sx = chart.scales.x, sy = chart.scales.y;
    text(ctx, '(c)', 23, 20, 13.5, 'left', { bold: true });
    text(ctx, 'Predicted Decomposition Energy (eV/atom)', 17, 672 - oy, 14.5, 'center', { rotate: true });
    text(ctx, 'DFT Decomposition Energy (eV/atom)', 360, 1017 - oy, 14.5, 'center');

    drawRich(ctx, [
        { t: 'E', s: 17, it: true },
        { t: 'decomp(pred)', s: 12.5, dy: 4 },
        { t: ' > ', s: 17 },
        { t: 'E', s: 17, it: true },
        { t: 'decomp(DFT)', s: 12.5, dy: 4 }
    ], 370, 770 - oy, 'left', '#d9435f');

    // legend
    ctx.save();
    ctx.fillStyle = 'rgba(180,180,180,0.9)';
    ctx.beginPath(); ctx.arc(377, 883 - oy, 3, 0, Math.PI * 2); ctx.fill();
    ctx.fillStyle = 'rgba(40,85,175,0.9)';
    ctx.beginPath(); ctx.arc(378, 913 - oy, 3.2, 0, Math.PI * 2); ctx.fill();
    ctx.restore();
    text(ctx, 'Non self-consistent', 403, 883 - oy, 14.5, 'left');
    text(ctx, 'Self-consistent', 403, 913 - oy, 14.5, 'left');

    // callouts
    ctx.save();
    ctx.strokeStyle = '#111';
    ctx.lineWidth = 1.2;
    labelNames.forEach((name, i) => {
        const lay = calloutLayout[i];
        const px = sx.getPixelForValue(labelPts[i][0]);
        const py = sy.getPixelForValue(labelPts[i][1]);
        const lx = lay.lx, ly = lay.ly - oy;
        const dx = px - lx, dy = py - ly;
        const len = Math.hypot(dx, dy) || 1;
        ctx.beginPath();
        ctx.moveTo(lx, ly);
        ctx.lineTo(px - dx / len * 4, py - dy / len * 4);
        ctx.stroke();
        drawRich(ctx, formulaParts(name), lay.tx, lay.ty - oy + 4.6, lay.align, '#111');
    });
    ctx.restore();
}

function makeChart(id, datasets, ranges, pad, yWidth, xHeight, draw) {
    return new Chart(document.getElementById(id), {
        type: 'scatter',
        data: { datasets: datasets },
        options: {
            responsive: false,
            animation: false,
            events: [],
            layout: { padding: pad },
            plugins: { legend: { display: false }, tooltip: { enabled: false } },
            scales: {
                x: axis(ranges.x[0], ranges.x[1], ranges.xt, ranges.fmt, s => { s.height = xHeight; }),
                y: axis(ranges.y[0], ranges.y[1], ranges.yt, ranges.fmt, s => { s.width = yWidth; })
            }
        },
        plugins: [innerTicks, { id: 'panelText', afterDraw: c => draw(c.ctx, c) }]
    });
}

function diagonal(from, to) {
    return {
        data: toXY([from, to]),
        showLine: true,
        borderColor: '#8c8c8c',
        borderWidth: 1,
        borderDash: [1.5, 2.5],
        pointRadius: 0
    };
}

makeChart('chartA', [
    { data: toXY(volRelaxedPts), pointRadius: 2.3, borderWidth: 0, backgroundColor: 'rgba(206,86,112,0.6)' },
    diagonal([-9, -9], [-2, -2])
], { x: [-9, -2], y: [-9, -2], xt: energyTicks, yt: energyTicks, fmt: minus },
   { top: 25, right: 9, left: 0, bottom: 0 }, 72, 55, drawPanelA);

makeChart('chartB', [
    { data: toXY(fullyRelaxedPts), pointRadius: 2.4, borderWidth: 0, backgroundColor: 'rgba(68,68,160,0.55)' },
    diagonal([-9, -9], [-2, -2])
], { x: [-9, -2], y: [-9, -2], xt: energyTicks, yt: energyTicks, fmt: minus },
   { top: 25, right: 11, left: 0, bottom: 0 }, 41, 55, drawPanelB);

makeChart('chartC', [
    diagonal([-2.4, -2.4], [0, 0]),
    diagonal([0, 0], [0, -2.4]),
    { data: toXY(selfConsistentPts), pointRadius: 4, borderWidth: 0, backgroundColor: 'rgba(32,82,172,0.85)' },
    { data: toXY(nonSelfConsistentPts), pointRadius: 3.3, borderWidth: 0, backgroundColor: 'rgba(172,172,172,0.6)' }
], { x: [-2.4, 0.29], y: [-2.4, 0], xt: decompTicksX, yt: decompTicksY, fmt: minus1 },
   { top: 23, right: 0, left: 0, bottom: 0 }, 72, 63, drawPanelC);
</script>
</body>
</html>
